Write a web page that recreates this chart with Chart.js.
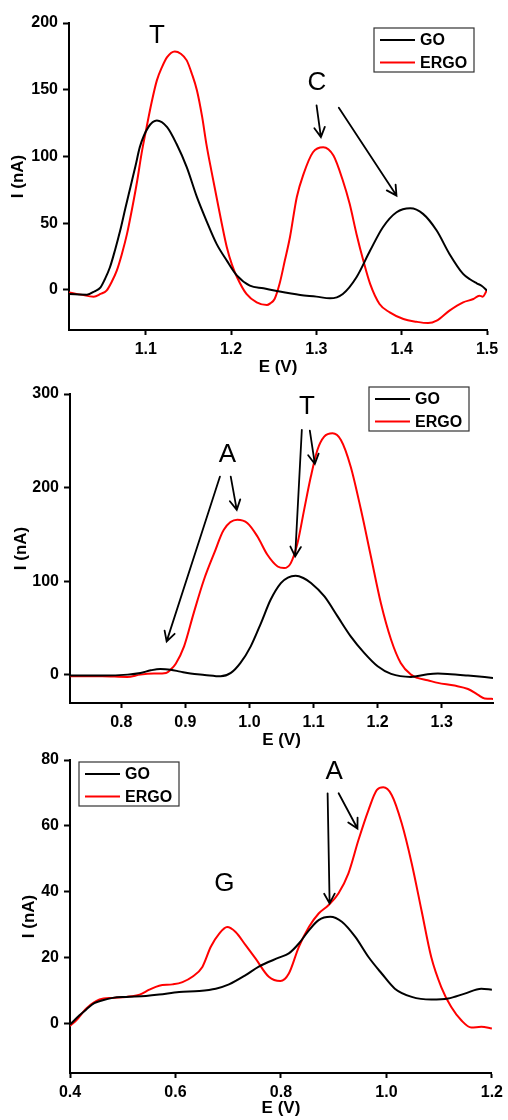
<!DOCTYPE html>
<html>
<head>
<meta charset="utf-8">
<script src="https://cdn.jsdelivr.net/npm/chart.js@4.4.1/dist/chart.umd.min.js"></script>
<style>
  html, body { margin: 0; padding: 0; background: #fff; }
  body { width: 508px; height: 1120px; position: relative; overflow: hidden; }
  canvas { position: absolute; left: 0; }
</style>
</head>
<body>
<canvas id="chartTop" width="508" height="378" style="top:0px"></canvas>
<canvas id="chartMid" width="508" height="376" style="top:375px"></canvas>
<canvas id="chartBot" width="508" height="374" style="top:745px"></canvas>
<script>
// ---- top panel (T and C) ----
const topGoE = [1.010, 1.031, 1.040, 1.047, 1.052, 1.058, 1.064, 1.070, 1.076, 1.082, 1.088, 1.093, 1.103, 1.113,
  1.125, 1.136, 1.148, 1.160, 1.171, 1.183, 1.195, 1.207, 1.222, 1.238, 1.255, 1.281, 1.300, 1.316, 1.331, 1.347,
  1.363, 1.378, 1.394, 1.410, 1.425, 1.441, 1.456, 1.472, 1.480, 1.488, 1.494, 1.500];
const topGoI = [-3, -3.5, -1, 2, 8, 17, 30, 44.5, 61, 77, 93, 107, 122, 127,
  122, 109.5, 92, 69.5, 52, 34.5, 22, 10.7, 3.2, 1.2, -1, -3.8, -5, -6.3, -3, 9.5,
  29.5, 47, 58.2, 61.2, 57, 44.5, 27, 12, 8, 5, 3, -0.5];
const topErgoE = [1.010, 1.024, 1.039, 1.047, 1.054, 1.060, 1.066, 1.072, 1.078, 1.084, 1.090, 1.095, 1.101, 1.107,
  1.113, 1.119, 1.125, 1.134, 1.141, 1.148, 1.154, 1.160, 1.166, 1.171, 1.177, 1.183, 1.189, 1.195, 1.201, 1.207,
  1.218, 1.230, 1.242, 1.246, 1.251, 1.257, 1.263, 1.269, 1.277, 1.285, 1.296, 1.308, 1.320, 1.331, 1.339, 1.347,
  1.355, 1.363, 1.374, 1.386, 1.402, 1.417, 1.431, 1.441, 1.456, 1.472, 1.484, 1.491, 1.495, 1.500];
const topErgoI = [-1.8, -3.5, -5, -3, -0.5, 6, 14.5, 27, 42, 61, 82, 102, 122, 141,
  157, 167, 174.5, 178.7, 177, 172, 162, 149.5, 130, 109.5, 89, 69.5, 50, 32, 19, 9.5,
  -3, -9.3, -11.3, -10, -6.8, 5, 22, 39.5, 69.5, 87, 103.2, 107, 100.7, 82, 64.5, 42,
  22, 4.5, -10.5, -16.8, -21.8, -23.8, -24.8, -23, -15.5, -9.3, -6.8, -4.3, -5, 0];
const topXTicks = [1.1, 1.2, 1.3, 1.4, 1.5];
const topYTicks = [0, 50, 100, 150, 200];

// ---- middle panel (A and T) ----
const midGoE = [0.720, 0.770, 0.810, 0.830, 0.846, 0.861, 0.877, 0.892, 0.908, 0.930, 0.955, 0.971, 0.986, 1.002,
  1.018, 1.033, 1.049, 1.060, 1.072, 1.084, 1.096, 1.117, 1.1375, 1.158, 1.179, 1.200, 1.221, 1.252, 1.278,
  1.294, 1.309, 1.341, 1.380];
const midGoI = [-0.7, -0.7, 0.3, 2, 4.9, 6.4, 5.6, 3.5, 1.4, 0, -1.5, 2.1, 12.8, 30.5,
  55.4, 80.3, 98.1, 104, 105.9, 103.5, 98.1, 83.8, 62.5, 41.2, 23.5, 9.2, 1.1, -2.1, 0.7,
  1.4, 1, -0.7, -3.2];
const midErgoE = [0.720, 0.770, 0.809, 0.830, 0.851, 0.870, 0.877, 0.885, 0.898, 0.913, 0.929, 0.945, 0.960, 0.981,
  0.997, 1.0125, 1.028, 1.044, 1.054, 1.0645, 1.075, 1.0853, 1.0958, 1.106, 1.1166, 1.1297, 1.1427, 1.158,
  1.174, 1.1895, 1.205, 1.221, 1.236, 1.252, 1.262, 1.278, 1.294, 1.320, 1.341, 1.356, 1.367, 1.380];
const midErgoI = [-1.4, -1.4, -2.1, 0.3, 1.4, 2.1, 5.6, 12, 30.5, 66, 101.6, 130, 155, 165.6,
  162, 147.8, 128.3, 115.8, 114.1, 119.4, 140.8, 176.3, 211.8, 240.2, 254.4, 258, 250.9, 222.4,
  176.3, 126.5, 76.8, 37.6, 12.8, 0.3, -3.2, -5.7, -8.5, -11.4, -15, -21, -25.2, -25.6];
const midXTicks = [0.8, 0.9, 1.0, 1.1, 1.2, 1.3];
const midYTicks = [0, 100, 200, 300];

// ---- bottom panel (G and A) ----
const botGoE = [0.400, 0.418, 0.431, 0.446, 0.462, 0.481, 0.5065, 0.544, 0.569, 0.607, 0.645, 0.6764, 0.7015,
  0.733, 0.758, 0.796, 0.815, 0.834, 0.853, 0.8715, 0.8935, 0.9155, 0.941, 0.966, 0.991, 1.016, 1.048, 1.085,
  1.117, 1.1485, 1.180, 1.200];
const botGoI = [-0.3, 2.5, 4.3, 6.2, 7.1, 7.8, 8.1, 8.4, 8.8, 9.6, 9.9, 10.6, 11.9,
  14.7, 17.3, 20, 21.3, 24.3, 28.3, 31.4, 32.4, 30.9, 26.3, 20.2, 15.2, 10.6, 8.1, 7.3,
  7.6, 9.1, 10.6, 10.3];
const botErgoE = [0.400, 0.412, 0.431, 0.456, 0.481, 0.5065, 0.532, 0.5505, 0.569, 0.5945, 0.6134, 0.632, 0.651,
  0.667, 0.683, 0.698, 0.714, 0.733, 0.752, 0.777, 0.799, 0.815, 0.834, 0.853, 0.8715, 0.890, 0.909, 0.928,
  0.947, 0.966, 0.982, 0.994, 1.010, 1.029, 1.048, 1.0665, 1.085, 1.104, 1.123, 1.142, 1.161, 1.180, 1.200];
const botErgoI = [-0.7, 1, 4.6, 7.3, 7.8, 8.1, 8.8, 10.3, 11.5, 11.9, 12.6, 14.2, 17.2,
  23.3, 27.3, 29.3, 27.8, 23.8, 19.7, 14.2, 12.9, 15.2, 23.3, 29.3, 33.4, 35.9, 39.5, 45.6,
  55.7, 64.8, 70.9, 71.7, 69.4, 60.8, 48.6, 34.4, 20.2, 11.1, 5, 1, -1.2, -1, -1.5];
const botXTicks = [0.4, 0.6, 0.8, 1.0, 1.2];
const botYTicks = [0, 20, 40, 60, 80];

const FONT = '"Liberation Sans", Arial, Helvetica, sans-serif';

function zip(xs, ys) {
  return xs.map((v, i) => ({ x: v, y: ys[i] }));
}

// letters, arrows and the framed legend
const panelExtras = {
  id: 'panelExtras',
  afterDatasetsDraw(chart, args, opts) {
    const ctx = chart.ctx;
    const x = chart.scales.x, y = chart.scales.y;
    ctx.save();

    ctx.fillStyle = '#000';
    ctx.font = '26px ' + FONT;
    ctx.textAlign = 'center';
    ctx.textBaseline = 'middle';
    opts.letters.forEach(l => {
      ctx.fillText(l.text, x.getPixelForValue(l.e), y.getPixelForValue(l.i));
    });

    ctx.strokeStyle = '#000';
    ctx.lineWidth = 1.8;
    ctx.lineCap = 'round';
    opts.arrows.forEach(a => {
      const x0 = x.getPixelForValue(a[0]), y0 = y.getPixelForValue(a[1]);
      const x1 = x.getPixelForValue(a[2]), y1 = y.getPixelForValue(a[3]);
      const ang = Math.atan2(y1 - y0, x1 - x0);
      const head = 11, spread = 0.5;
      ctx.beginPath();
      ctx.moveTo(x0, y0);
      ctx.lineTo(x1, y1);
      ctx.moveTo(x1 - head * Math.cos(ang - spread), y1 - head * Math.sin(ang - spread));
      ctx.lineTo(x1, y1);
      ctx.lineTo(x1 - head * Math.cos(ang + spread), y1 - head * Math.sin(ang + spread));
      ctx.stroke();
    });

    // legend box
    const lg = opts.legend;
    ctx.lineWidth = 1.2;
    ctx.strokeStyle = '#333';
    ctx.strokeRect(lg.left, lg.top, 100, 44);
    ctx.font = 'bold 16px ' + FONT;
    ctx.textAlign = 'left';
    chart.data.datasets.forEach((ds, i) => {
      const ry = lg.top + 12 + i * 22.5;
      ctx.strokeStyle = ds.borderColor;
      ctx.lineWidth = 2;
      ctx.lineCap = 'butt';
      ctx.beginPath();
      ctx.moveTo(lg.left + 6, ry);
      ctx.lineTo(lg.left + 41, ry);
      ctx.stroke();
      ctx.fillStyle = '#000';
      ctx.fillText(ds.label, lg.left + 46, ry + 1);
    });
    ctx.restore();
  }
};

function buildPanel(id, p) {
  return new Chart(document.getElementById(id), {
    type: 'line',
    data: {
      datasets: [
        { label: 'GO', data: zip(p.goE, p.goI), borderColor: '#000000', borderWidth: 2,
          pointRadius: 0, cubicInterpolationMode: 'monotone', fill: false },
        { label: 'ERGO', data: zip(p.ergoE, p.ergoI), borderColor: '#ff0000', borderWidth: 2,
          pointRadius: 0, cubicInterpolationMode: 'monotone', fill: false }
      ]
    },
    options: {
      responsive: false,
      animation: false,
      events: [],
      layout: { padding: { left: 0, right: p.padRight, top: p.padTop, bottom: 0 } },
      plugins: {
        legend: { display: false },
        tooltip: { enabled: false },
        panelExtras: { letters: p.letters, arrows: p.arrows, legend: p.legend }
      },
      scales: {
        x: {
          type: 'linear',
          min: p.xMin,
          max: p.xMax,
          afterBuildTicks: s => { s.ticks = p.xTicks.map(v => ({ value: v })); },
          afterFit: s => { s.height = p.xAxisHeight; },
          grid: { drawOnChartArea: false, drawTicks: true, tickLength: 5, tickWidth: 2, tickColor: '#000' },
          border: { display: true, color: '#000', width: 2 },
          ticks: { color: '#000', padding: 5, maxRotation: 0, font: { family: FONT, size: 16, weight: 'bold' },
            callback: v => v.toFixed(1) },
          title: { display: true, text: 'E (V)', color: '#000', padding: { top: 0, bottom: 0 },
            font: { family: FONT, size: 17, weight: 'bold' } }
        },
        y: {
          type: 'linear',
          min: p.yMin,
          max: p.yMax,
          afterBuildTicks: s => { s.ticks = p.yTicks.map(v => ({ value: v })); },
          afterFit: s => { s.width = p.yAxisWidth; },
          grid: { drawOnChartArea: false, drawTicks: true, tickLength: 6, tickWidth: 2, tickColor: '#000' },
          border: { display: true, color: '#000', width: 2 },
          ticks: { color: '#000', padding: 5, font: { family: FONT, size: 16, weight: 'bold' },
            callback: v => String(v) },
          title: { display: true, text: 'I (nA)', color: '#000', padding: { top: p.yTitlePad, bottom: 0 },
            font: { family: FONT, size: 17, weight: 'bold' } }
        }
      }
    },
    plugins: [panelExtras]
  });
}

document.addEventListener('DOMContentLoaded', function () {
  buildPanel('chartTop', {
    goE: topGoE, goI: topGoI, ergoE: topErgoE, ergoI: topErgoI,
    xTicks: topXTicks, yTicks: topYTicks,
    xMin: 1.01, xMax: 1.5, yMin: -30, yMax: 200,
    padTop: 23, padRight: 21, xAxisHeight: 48, yAxisWidth: 69, yTitlePad: 8,
    legend: { left: 374, top: 28 },
    letters: [{ text: 'T', e: 1.1132, i: 190.7 }, { text: 'C', e: 1.3006, i: 155.5 }],
    arrows: [[1.3002, 138.2, 1.3053, 114.5], [1.3263, 136.5, 1.3939, 70.7]]
  });

  buildPanel('chartMid', {
    goE: midGoE, goI: midGoI, ergoE: midErgoE, ergoI: midErgoI,
    xTicks: midXTicks, yTicks: midYTicks,
    xMin: 0.72, xMax: 1.38, yMin: -30, yMax: 300,
    padTop: 19, padRight: 15, xAxisHeight: 48, yAxisWidth: 70, yTitlePad: 11,
    legend: { left: 369, top: 12 },
    letters: [{ text: 'A', e: 0.9656, i: 234.9 }, { text: 'T', e: 1.0895, i: 285.8 }],
    arrows: [[0.954, 211.8, 0.8708, 35.8], [0.9708, 211.8, 0.9802, 176.3],
             [1.0817, 261.6, 1.0713, 126.5], [1.0942, 260.8, 1.102, 225.3]]
  });

  buildPanel('chartBot', {
    goE: botGoE, goI: botGoI, ergoE: botErgoE, ergoI: botErgoI,
    xTicks: botXTicks, yTicks: botYTicks,
    xMin: 0.4, xMax: 1.2, yMin: -15, yMax: 80,
    padTop: 15, padRight: 14, xAxisHeight: 46, yAxisWidth: 70, yTitlePad: 19,
    legend: { left: 79, top: 17 },
    letters: [{ text: 'A', e: 0.9011, i: 76.4 }, { text: 'G', e: 0.6927, i: 42.5 }],
    arrows: [[0.8885, 69.9, 0.8923, 36.5], [0.9094, 69.9, 0.9451, 59.2]]
  });
});
</script>
</body>
</html>
